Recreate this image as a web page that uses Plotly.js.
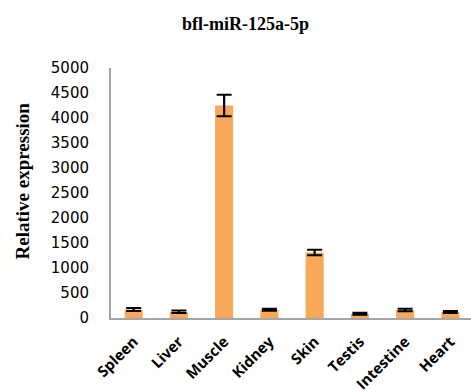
<!DOCTYPE html>
<html>
<head>
<meta charset="utf-8">
<script src="https://cdn.plot.ly/plotly-3.0.1.min.js"></script>
<style>
html,body{margin:0;padding:0;overflow:hidden;background:#fff;}
#chart{width:473px;height:391px;}
</style>
</head>
<body>
<div id="chart"></div>
<script>
const tissues = ["Spleen","Liver","Muscle","Kidney","Skin","Testis","Intestine","Heart"];
const expression = [170, 125, 4250, 165, 1310, 85, 160, 120];
const errors = [30, 25, 215, 20, 55, 20, 25, 20];
const yTicks = [0,500,1000,1500,2000,2500,3000,3500,4000,4500,5000];
const chartTitle = "bfl-miR-125a-5p";
const yTitle = "Relative expression";

const trace = {
  type: 'bar',
  x: tissues,
  y: expression,
  width: 0.4,
  marker: {color: '#F7A959', line: {width: 0}},
  error_y: {type: 'data', array: errors, visible: true, color: '#000', thickness: 2.2, width: 7.5}
};

const layout = {
  width: 473, height: 391,
  margin: {l: 111, r: 0, t: 68, b: 73},
  paper_bgcolor: '#fff', plot_bgcolor: '#fff',
  showlegend: false,
  xaxis: {
    type: 'category',
    range: [-0.5, 7.5],
    showline: true, linecolor: '#a6a6a6', linewidth: 2,
    showgrid: false, zeroline: false, ticks: '',
    tickangle: -45,
    tickfont: {family: 'Open Sans', size: 15, color: '#000', weight: 'bold'},
    ticklabelstandoff: 7
  },
  yaxis: {
    range: [0, 5000],
    tickvals: yTicks,
    showline: true, linecolor: '#a6a6a6', linewidth: 2,
    showgrid: false, zeroline: false, ticks: '',
    tickfont: {family: 'DejaVu Sans', size: 15, color: '#000'},
    ticklabelstandoff: 17
  },
  annotations: [
    {text: '<b>' + chartTitle + '</b>', xref: 'paper', yref: 'paper', x: (245-111)/362, y: 1 + (68-24)/250,
     xanchor: 'center', yanchor: 'middle', showarrow: false,
     font: {family: 'Liberation Serif', size: 18, color: '#000'}},
    {text: '<b>' + yTitle + '</b>', xref: 'paper', yref: 'paper', x: (22-111)/362, y: (318-181.5)/250,
     xanchor: 'center', yanchor: 'middle', textangle: -90, showarrow: false,
     font: {family: 'Liberation Serif', size: 19, color: '#000'}}
  ]
};

Plotly.newPlot('chart', [trace], layout, {displayModeBar: false, staticPlot: true});
</script>
</body>
</html>
